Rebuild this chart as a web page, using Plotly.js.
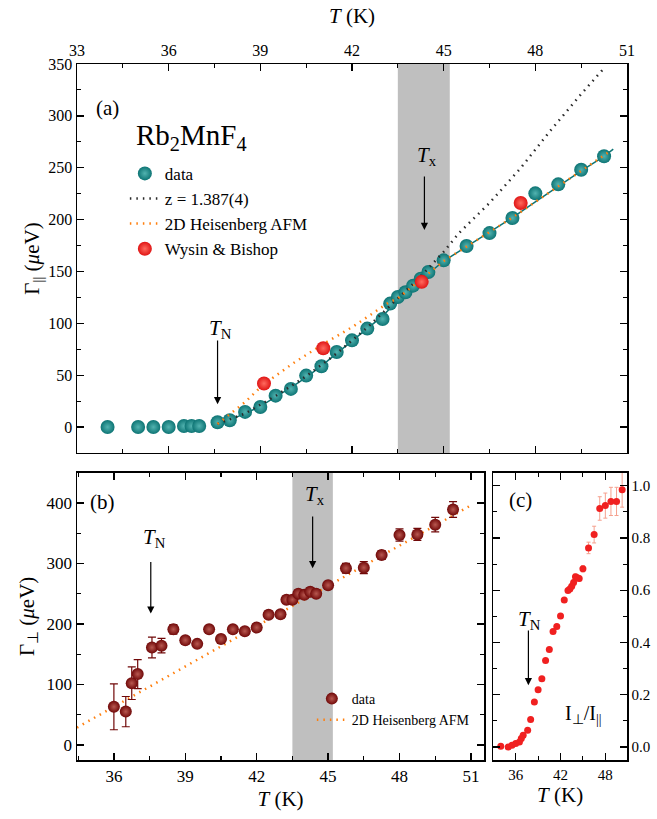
<!DOCTYPE html>
<html>
<head>
<meta charset="utf-8">
<script src="https://cdn.plot.ly/plotly-3.0.1.min.js"></script>
<style>html,body{margin:0;padding:0;background:#fff;}#chart{width:657px;height:819px;}</style>
</head>
<body>
<div id="chart"></div>
<script>
// ---------- Panel (a): Gamma_parallel ----------
const T_a = [34,35,35.5,36,36.5,36.75,37,37.6,38,38.5,39,39.5,40,40.5,41,41.5,42,42.5,43,43.25,43.5,43.75,44,44.25,44.5,45,45.75,46.5,47.25,48,48.75,49.5,50.25];
const G_par = [0,0,0,0,1,1,1,4.6,6.6,14.6,19.4,30.3,36.8,49.6,58.6,72.4,83.6,94.9,104.2,119,125.4,129.9,136.3,143,149.5,160.7,174.5,187,201.5,225.3,234,248,261];
const T_fit = [37.6,38,38.5,39,39.5,40,40.5,41,41.5,42,42.5,43,43.5,44,44.5,45,45.75,46.5,47.25,48,48.75,49.5,50.25,50.55];
const G_fit = [4,7,13,20,29,38,48,59,71,83,95,107,122,135,148,160,174,188,202,217,232,247,261,268];
const T_z = [37.6,38.5,39.5,40.5,41.5,42.5,43.5,44,44.5,45,45.5,46.5,47.5,48.5,49.5,50.25];
const G_z = [3,13,30,49,71,96,124,138,153,169,187,216,249,286,321,346];
const T_heis = [37.6,38,38.5,39.1,40.1,41.06,42.04,43.2,43.5,44,44.5,45,45.75,46.5,47.25,48,48.75,49.5,50.4];
const G_heis = [3,12,24,41,62,80,97,120,124,136,148,160,174,188,202,217,232,247,265];
const T_wb = [39.12,41.06,44.28,47.52];
const G_wb = [42,76,140,216];

// ---------- Panel (b): Gamma_perp ----------
const T_b = [36,36.5,36.75,37,37.6,38,38.5,39,39.5,40,40.5,41,41.5,42,42.5,43,43.25,43.5,43.75,44,44.25,44.5,45,45.75,46.5,47.25,48,48.75,49.5,50.25];
const G_perp = [63,55,102,117,161,164,191,173,167,191,175,191,188,194,215,216,240,240,250,248,253,250,264,292,293,314,347,348,364,389];
const E_perp = [38,25,27,24,17,12,8,6,5,6,6,6,5,6,6,6,6,6,6,6,6,6,6,8,10,7,10,10,12,13];
const T_heis_b = [34.45,51];
const G_heis_b = [28.6,396];

// ---------- Panel (c): intensity ratio ----------
const T_c = [34,35,35.5,36,36.5,36.75,37,37.6,38,38.5,39,39.5,40,40.5,41,41.5,42,42.5,43,43.25,43.5,43.75,44,44.25,44.5,45,45.75,46.5,47.25,48,48.75,49.5,50.25];
const R_c = [0.003,0,0.006,0.013,0.019,0.032,0.045,0.064,0.105,0.172,0.219,0.261,0.331,0.373,0.442,0.461,0.501,0.563,0.599,0.605,0.615,0.63,0.652,0.648,0.645,0.682,0.762,0.813,0.913,0.924,0.94,0.94,0.985];
const E_c = [0,0,0,0,0,0,0,0.004,0.004,0.004,0.004,0.004,0.004,0.004,0.004,0.004,0.005,0.005,0.006,0.01,0.01,0.01,0.01,0.01,0.01,0.012,0.022,0.032,0.045,0.048,0.054,0.054,0.067];

const FONT = 'Liberation Serif';
const TEAL = '#0d7474', TEAL_HI = '#52b3b0';
const RED = '#e01515', RED_HI = '#ff6a5e';
const DRED = '#700808', DRED_HI = '#b85850';
const ORANGE = '#ff7f0e';

const traces = [
  {x:T_fit, y:G_fit, xaxis:'x', yaxis:'y', mode:'lines', line:{color:TEAL, width:1.5}, showlegend:false, hoverinfo:'skip'},
  {x:T_a, y:G_par, xaxis:'x', yaxis:'y', mode:'markers', name:'data',
   marker:{size:14, color:TEAL, gradient:{type:'radial', color:TEAL_HI}, line:{width:0}}},
  {x:T_z, y:G_z, xaxis:'x', yaxis:'y', mode:'lines', name:'z = 1.387(4)',
   line:{color:'#2a2a2a', width:2.5, dash:'1.5px,5px'}},
  {x:T_heis, y:G_heis, xaxis:'x', yaxis:'y', mode:'lines', name:'2D Heisenberg AFM',
   line:{color:ORANGE, width:2.5, dash:'1.5px,5px'}},
  {x:T_wb, y:G_wb, xaxis:'x', yaxis:'y', mode:'markers', name:'Wysin &amp; Bishop',
   marker:{size:14, color:RED, gradient:{type:'radial', color:RED_HI}, line:{width:0}}},

  {x:T_heis_b, y:G_heis_b, xaxis:'x2', yaxis:'y2', mode:'lines', name:'2D Heisenberg AFM', legend:'legend2',
   line:{color:ORANGE, width:2.5, dash:'1.5px,5px'}},
  {x:T_b, y:G_perp, xaxis:'x2', yaxis:'y2', mode:'markers', name:'data', legend:'legend2',
   error_y:{type:'data', array:E_perp, visible:true, color:DRED, thickness:1.2, width:4},
   marker:{size:12, color:DRED, gradient:{type:'radial', color:DRED_HI}, line:{width:0}}},

  {x:T_c, y:R_c, xaxis:'x3', yaxis:'y3', mode:'markers', showlegend:false,
   error_y:{type:'data', array:E_c, visible:true, color:'#f5a08e', thickness:1, width:2},
   marker:{size:7, color:'#f02020', line:{width:0}}}
];

const axBase = {showline:true, linecolor:'#000', linewidth:1.5, mirror:'ticks', ticks:'inside',
  ticklen:7, tickwidth:1.3, tickcolor:'#000', showgrid:false, zeroline:false,
  tickfont:{family:FONT, size:16, color:'#000'}};
function ax(o){ return Object.assign({}, axBase, o); }
const minor = (d)=>({dtick:d, ticks:'inside', ticklen:4, tickwidth:1.1, tickcolor:'#000', showgrid:false});
const ann = (o)=>Object.assign({showarrow:false, xanchor:'center', yanchor:'middle'}, o);
const arrow = (o)=>Object.assign({text:'', showarrow:true, arrowhead:2, arrowsize:1.2, arrowwidth:1.2, arrowcolor:'#000'}, o);

const layout = {
  width:657, height:819,
  margin:{l:77, r:30, t:64, b:59},
  paper_bgcolor:'#fff', plot_bgcolor:'#fff',
  font:{family:FONT, color:'#000', size:16},
  xaxis: ax({domain:[0,1], anchor:'y', range:[33,51], side:'top', dtick:3, tick0:0, minor:minor(1.5),
    title:{text:'<i>T</i> (K)', font:{family:FONT, size:21}, standoff:12}}),
  yaxis: ax({domain:[0.4411,1], anchor:'x', range:[-25,350], dtick:50, tick0:0, minor:minor(25),
    title:{text:'Γ<sub>||</sub> (<i>μ</i>eV)', font:{family:FONT, size:21}, standoff:3}}),
  xaxis2: ax({domain:[0,0.74], anchor:'y2', range:[34.45,51.55], dtick:3, tick0:0, minor:minor(1.5),
    tickfont:{family:FONT, size:17},
    title:{text:'<i>T</i> (K)', font:{family:FONT, size:21}, standoff:6}}),
  yaxis2: ax({domain:[0,0.4128], anchor:'x2', range:[-25,450], dtick:100, tick0:0, minor:minor(50),
    tickfont:{family:FONT, size:17},
    title:{text:'Γ<sub>⊥</sub> (<i>μ</i>eV)', font:{family:FONT, size:21}, standoff:6}}),
  xaxis3: ax({domain:[0.7569,1], anchor:'y3', range:[33,50.9], dtick:6, tick0:0, minor:minor(3),
    tickfont:{family:FONT, size:15},
    title:{text:'<i>T</i> (K)', font:{family:FONT, size:21}, standoff:6}}),
  yaxis3: ax({domain:[0,0.4128], anchor:'x3', side:'right', range:[-0.05,1.05], dtick:0.2, tick0:0,
    tickformat:'.1f', minor:minor(0.1), tickfont:{family:FONT, size:15}}),
  legend:{x:0.087, y:0.868, xanchor:'left', yanchor:'top', bgcolor:'rgba(0,0,0,0)',
    font:{family:FONT, size:17}, tracegroupgap:0, itemwidth:30, traceorder:'normal'},
  legend2:{x:0.427, y:0.1106, xanchor:'left', yanchor:'top', bgcolor:'rgba(0,0,0,0)',
    font:{family:FONT, size:14}, tracegroupgap:0, itemwidth:30, traceorder:'reversed'},
  shapes:[
    {type:'rect', xref:'x', yref:'y domain', x0:43.5, x1:45.2, y0:0, y1:1, fillcolor:'#bfbfbf', line:{width:0}, layer:'below'},
    {type:'rect', xref:'x2', yref:'y2 domain', x0:43.5, x1:45.2, y0:0, y1:1, fillcolor:'#bfbfbf', line:{width:0}, layer:'below'}
  ],
  annotations:[
    ann({xref:'paper', yref:'paper', x:0.209, y:0.895, text:'Rb<sub>2</sub>MnF<sub>4</sub>', font:{family:FONT, size:29}}),
    ann({xref:'paper', yref:'paper', x:0.056, y:0.937, text:'(a)', font:{family:FONT, size:21}}),
    ann({xref:'paper', yref:'paper', x:0.047, y:0.3707, text:'(b)', font:{family:FONT, size:21}}),
    ann({xref:'paper', yref:'paper', x:0.8055, y:0.3736, text:'(c)', font:{family:FONT, size:21}}),
    ann({xref:'paper', yref:'paper', x:0.92, y:0.0647, text:'I<sub>⊥</sub>/I<sub>||</sub>', font:{family:FONT, size:20}}),
    // (a)
    ann({xref:'x', yref:'y', x:37.7, y:95, text:'<i>T</i><sub>N</sub>', font:{family:FONT, size:21}}),
    arrow({xref:'x', yref:'y', axref:'x', ayref:'y', x:37.6, y:22, ax:37.6, ay:85}),
    ann({xref:'x', yref:'y', x:44.45, y:261, text:'<i>T</i><sub>x</sub>', font:{family:FONT, size:21}}),
    arrow({xref:'x', yref:'y', axref:'x', ayref:'y', x:44.37, y:190, ax:44.37, ay:243}),
    // (b)
    ann({xref:'x2', yref:'y2', x:37.7, y:342, text:'<i>T</i><sub>N</sub>', font:{family:FONT, size:21}}),
    arrow({xref:'x2', yref:'y2', axref:'x2', ayref:'y2', x:37.55, y:217, ax:37.55, ay:305}),
    ann({xref:'x2', yref:'y2', x:44.45, y:413, text:'<i>T</i><sub>x</sub>', font:{family:FONT, size:21}}),
    arrow({xref:'x2', yref:'y2', axref:'x2', ayref:'y2', x:44.35, y:292, ax:44.35, ay:380}),
    // (c)
    ann({xref:'x3', yref:'y3', x:37.8, y:0.485, text:'<i>T</i><sub>N</sub>', font:{family:FONT, size:21}}),
    arrow({xref:'x3', yref:'y3', axref:'x3', ayref:'y3', x:37.7, y:0.236, ax:37.7, ay:0.452})
  ]
};

Plotly.newPlot('chart', traces, layout, {displayModeBar:false, staticPlot:true});
</script>
</body>
</html>
